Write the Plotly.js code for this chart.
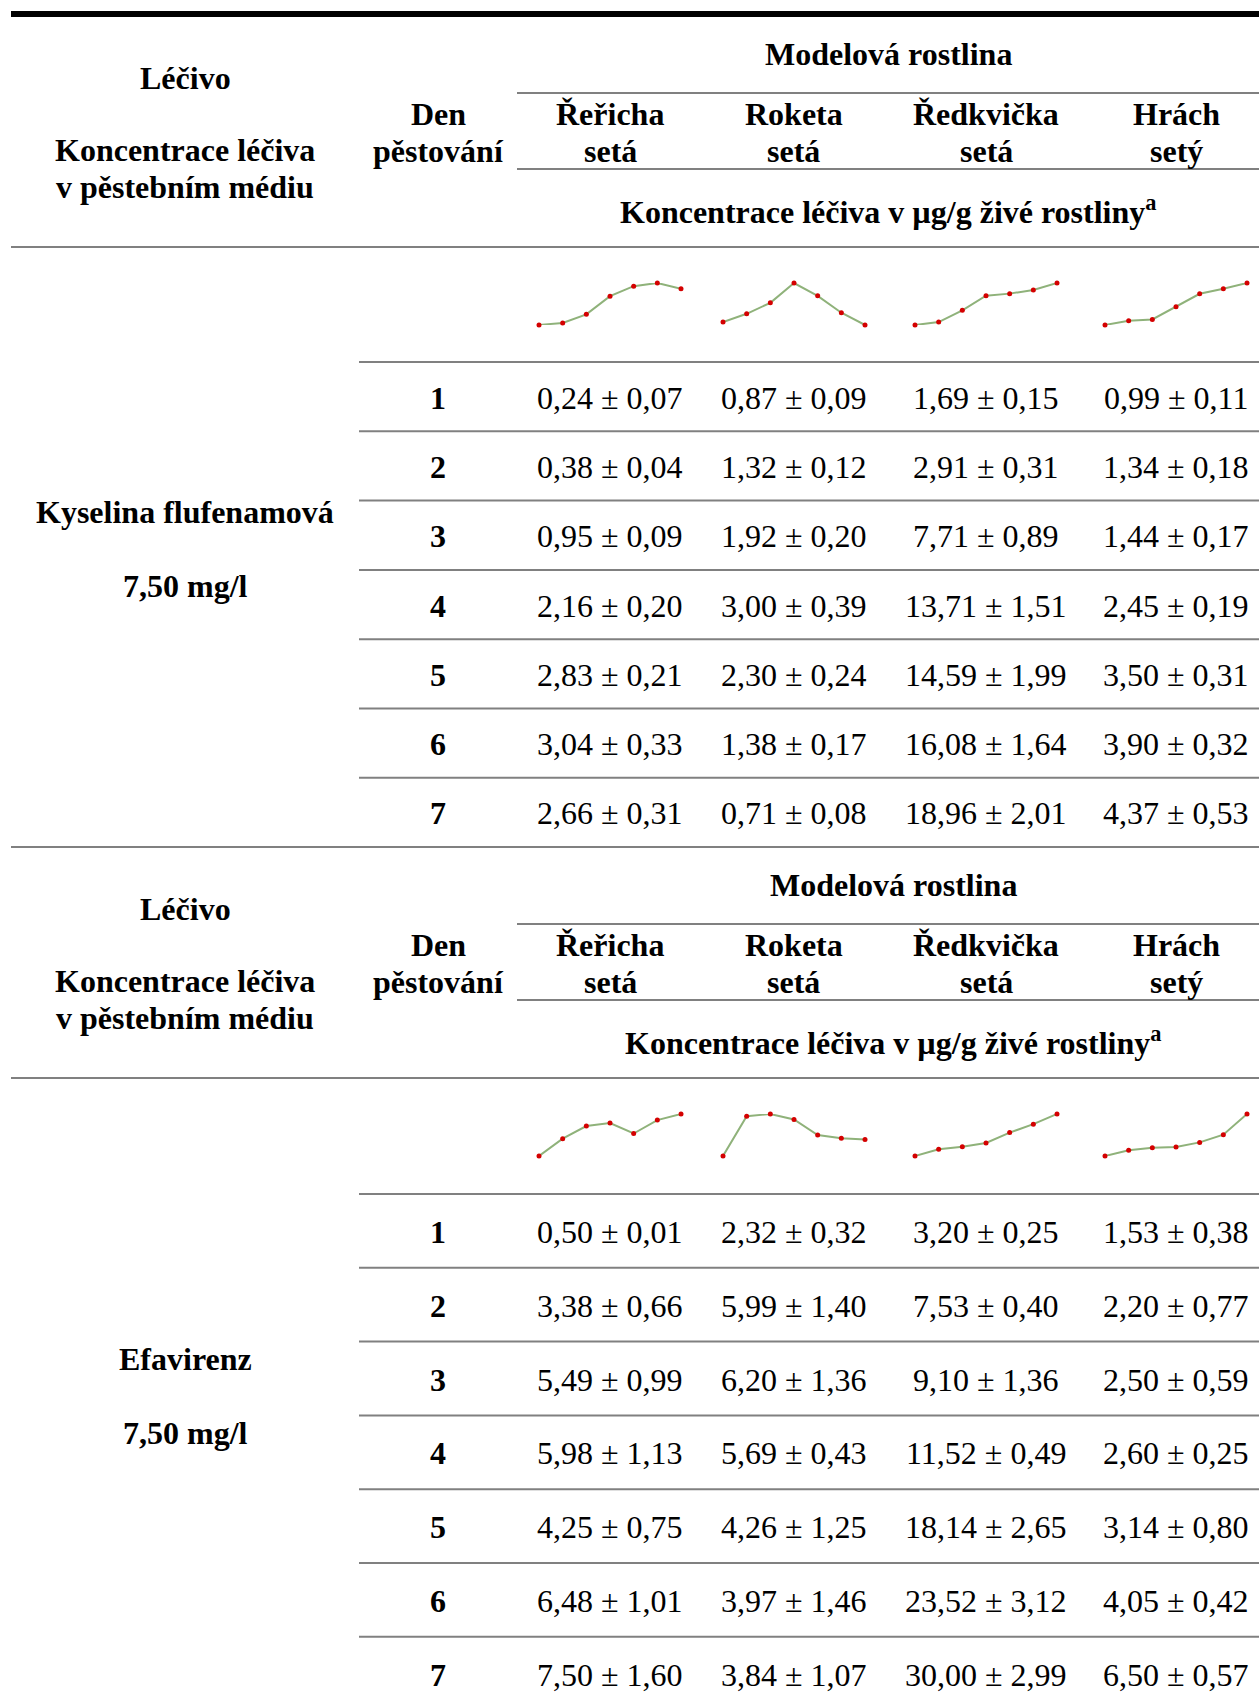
<!DOCTYPE html>
<html>
<head>
<meta charset="utf-8">
<script src="https://cdn.plot.ly/plotly-3.0.1.min.js"></script>
<style>
  html, body { margin: 0; padding: 0; background: #ffffff; }
  #chart { width: 1259px; height: 1708px; }
</style>
</head>
<body>
<div id="chart"></div>
<script>
// ---------------- DATA ----------------
const days = [1, 2, 3, 4, 5, 6, 7];
const plantNames = ['Řeřicha', 'Roketa', 'Ředkvička', 'Hrách'];
const plantNames2 = ['setá', 'setá', 'setá', 'setý'];
const drugs = ['Kyselina flufenamová', 'Efavirenz'];
const drugConc = ['7,50 mg/l', '7,50 mg/l'];

// Kyselina flufenamová – mean ± SD (µg/g)
const fluRerichaMean   = [0.24, 0.38, 0.95, 2.16, 2.83, 3.04, 2.66];
const fluRerichaSd     = [0.07, 0.04, 0.09, 0.20, 0.21, 0.33, 0.31];
const fluRoketaMean    = [0.87, 1.32, 1.92, 3.00, 2.30, 1.38, 0.71];
const fluRoketaSd      = [0.09, 0.12, 0.20, 0.39, 0.24, 0.17, 0.08];
const fluRedkvickaMean = [1.69, 2.91, 7.71, 13.71, 14.59, 16.08, 18.96];
const fluRedkvickaSd   = [0.15, 0.31, 0.89, 1.51, 1.99, 1.64, 2.01];
const fluHrachMean     = [0.99, 1.34, 1.44, 2.45, 3.50, 3.90, 4.37];
const fluHrachSd       = [0.11, 0.18, 0.17, 0.19, 0.31, 0.32, 0.53];

// Efavirenz – mean ± SD (µg/g)
const efaRerichaMean   = [0.50, 3.38, 5.49, 5.98, 4.25, 6.48, 7.50];
const efaRerichaSd     = [0.01, 0.66, 0.99, 1.13, 0.75, 1.01, 1.60];
const efaRoketaMean    = [2.32, 5.99, 6.20, 5.69, 4.26, 3.97, 3.84];
const efaRoketaSd      = [0.32, 1.40, 1.36, 0.43, 1.25, 1.46, 1.07];
const efaRedkvickaMean = [3.20, 7.53, 9.10, 11.52, 18.14, 23.52, 30.00];
const efaRedkvickaSd   = [0.25, 0.40, 1.36, 0.49, 2.65, 3.12, 2.99];
const efaHrachMean     = [1.53, 2.20, 2.50, 2.60, 3.14, 4.05, 6.50];
const efaHrachSd       = [0.38, 0.77, 0.59, 0.25, 0.80, 0.42, 0.57];

// ---------------- LAYOUT GEOMETRY ----------------
const W = 1259, H = 1708;
const px = x => x / W;
const py = y => 1 - y / H;
const FONT = 'Liberation Serif, Times New Roman, serif';
const FS = 32;
const colCenters = [610, 794, 986, 1176];
const sparkHalfW = 71;

const blocks = [
  { means: [fluRerichaMean, fluRoketaMean, fluRedkvickaMean, fluHrachMean],
    sds: [fluRerichaSd, fluRoketaSd, fluRedkvickaSd, fluHrachSd],
    off: 0, headCx: 888, rowTop: 362, rowH: 69.3, endLine: 847, drugY: 512, concY: 586 },
  { means: [efaRerichaMean, efaRoketaMean, efaRedkvickaMean, efaHrachMean],
    sds: [efaRerichaSd, efaRoketaSd, efaRedkvickaSd, efaHrachSd],
    off: 831, headCx: 893, rowTop: 1194, rowH: 73.8, endLine: null, drugY: 1359, concY: 1433 }
];

const fmt = v => v.toFixed(2).replace('.', ',');

const annotations = [];
const shapes = [];
const traces = [];
const layout = {
  width: W, height: H,
  margin: { l: 0, r: 0, t: 0, b: 0 },
  paper_bgcolor: '#ffffff', plot_bgcolor: 'rgba(0,0,0,0)',
  showlegend: false,
  xaxis: { visible: false, range: [0, 1], domain: [0, 1], fixedrange: true },
  yaxis: { visible: false, range: [0, 1], domain: [0, 1], fixedrange: true },
  annotations, shapes
};

function ann(text, x, y, bold) {
  annotations.push({
    text: bold ? '<b>' + text + '</b>' : text,
    x: px(x), y: py(y), xref: 'paper', yref: 'paper',
    xanchor: 'center', yanchor: 'middle', showarrow: false,
    font: { family: FONT, size: FS, color: '#000000' }
  });
}
function hline(x0, x1, y, color, width) {
  shapes.push({ type: 'line', xref: 'paper', yref: 'paper',
    x0: px(x0), x1: px(x1), y0: py(y), y1: py(y),
    line: { color: color, width: width } });
}

// top thick rule
hline(11, W, 14, '#000000', 6);

let axisIdx = 2;
blocks.forEach((b, bi) => {
  const o = b.off;
  // header texts
  ann('Léčivo', 185, 78 + o, true);
  ann('Koncentrace léčiva', 185, 150 + o, true);
  ann('v pěstebním médiu', 185, 187 + o, true);
  ann('Den', 438, 114 + o, true);
  ann('pěstování', 438, 151 + o, true);
  ann('Modelová rostlina', b.headCx, 54 + o, true);
  plantNames.forEach((p, i) => {
    ann(p, colCenters[i], 114 + o, true);
    ann(plantNames2[i], colCenters[i], 151 + o, true);
  });
  ann('Koncentrace léčiva v µg/g živé rostliny<sup>a</sup>', b.headCx, 210 + o, true);

  // header rules
  hline(517, W, 93 + o, '#808080', 2);
  hline(517, W, 169 + o, '#808080', 2);
  hline(11, W, 247 + o, '#808080', 2);

  // drug label
  ann(drugs[bi], 185, b.drugY, true);
  ann(drugConc[bi], 185, b.concY, true);

  // row rules and values
  hline(359, W, b.rowTop, '#808080', 2);
  days.forEach((d, r) => {
    const top = b.rowTop + r * b.rowH;
    const cy = top + b.rowH / 2 + 1;
    ann(String(d), 438, cy, true);
    b.means.forEach((m, c) => {
      ann(fmt(m[r]) + ' ± ' + fmt(b.sds[c][r]), colCenters[c], cy, false);
    });
    if (r < days.length - 1) hline(359, W, top + b.rowH, '#808080', 2);
  });
  if (b.endLine) hline(11, W, b.endLine, '#808080', 2);

  // sparklines
  const sTop = 283 + o, sBot = 325 + o;
  b.means.forEach((m, c) => {
    const xa = 'x' + axisIdx, ya = 'y' + axisIdx;
    const lo = Math.min(...m), hi = Math.max(...m);
    layout['xaxis' + axisIdx] = { domain: [px(colCenters[c] - sparkHalfW), px(colCenters[c] + sparkHalfW)],
      range: [days[0], days[days.length - 1]], visible: false, fixedrange: true, anchor: ya };
    layout['yaxis' + axisIdx] = { domain: [py(sBot), py(sTop)],
      range: [lo, hi], visible: false, fixedrange: true, anchor: xa };
    traces.push({
      type: 'scatter', mode: 'lines+markers', x: days, y: m,
      xaxis: xa, yaxis: ya, cliponaxis: false, hoverinfo: 'skip',
      line: { color: '#8fb27a', width: 2 },
      marker: { color: '#d40000', size: 5 }
    });
    axisIdx++;
  });
});

Plotly.newPlot('chart', traces, layout, { staticPlot: true, displayModeBar: false });
</script>
</body>
</html>
